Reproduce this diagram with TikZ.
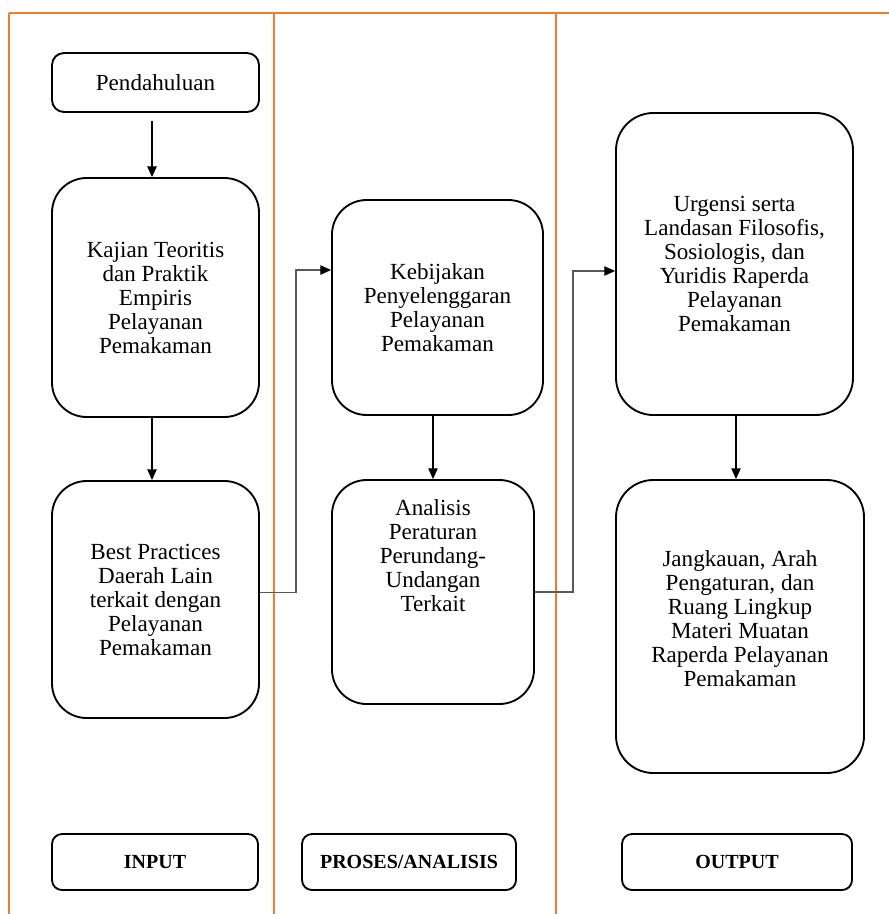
\documentclass[tikz,border=0pt]{standalone}
\usepackage{fontspec}
\setmainfont{Liberation Serif}
\usetikzlibrary{arrows.meta,calc}
\definecolor{colline}{HTML}{ED7D31}
\tikzset{
  x=0.75pt,y=-0.75pt,
  box/.style={draw=black,line width=1.4pt,fill=white,align=center,inner sep=0pt,
    font=\fontsize{17.3}{18}\selectfont},
  lbl/.style={draw=black,line width=1.4pt,rounded corners=7.5pt,align=center,inner sep=0pt,
    font=\fontsize{15}{15}\selectfont\bfseries},
  txt/.style={align=center,inner sep=0pt,font=\fontsize{17.3}{18}\selectfont},
  arr/.style={draw=black,line width=0.8pt,-{Triangle[length=8pt,width=7pt]}},
  elbow/.style={draw=black!65,line width=0.8pt,-{Triangle[length=8pt,width=7pt,color=black]}},
  sep/.style={draw=colline,line width=0.8pt}
}
\begin{document}
\begin{tikzpicture}
\useasboundingbox (0,0) rectangle (889,914);
% orange frame lines
\draw[sep,line width=1pt] (9,13) -- (889,13);
\draw[sep] (9,13) -- (9,914);
\draw[sep] (274,13) -- (274,914);
\draw[sep] (556,13) -- (556,914);

% input column
\node[box,rounded corners=9pt,minimum width=155.25pt,minimum height=44.25pt] (pend) at (155.5,82.5) {Pendahuluan};
\node[box,rounded corners=26pt,minimum width=155.25pt,minimum height=179.25pt] (kaj) at (155.5,297.5)
  {Kajian Teoritis\\dan Praktik\\Empiris\\Pelayanan\\Pemakaman};
\node[box,rounded corners=26pt,minimum width=155.25pt,minimum height=177.75pt] (best) at (155.5,599.5)
  {Best Practices\\Daerah Lain\\terkait dengan\\Pelayanan\\Pemakaman};

% process column
\node[box,rounded corners=26pt,minimum width=158.25pt,minimum height=161.25pt] (keb) at (437.5,307.5)
  {Kebijakan\\Penyelenggaran\\Pelayanan\\Pemakaman};
\node[box,rounded corners=26pt,minimum width=151.5pt,minimum height=168pt] (ana) at (433,592) {};
\node[txt] (anatxt) at (433,556) {Analisis\\Peraturan\\Perundang-\\Undangan\\Terkait};

% output column
\node[box,rounded corners=28pt,minimum width=177.75pt,minimum height=226.5pt] (urg) at (734.5,264)
  {Urgensi serta\\Landasan Filosofis,\\Sosiologis, dan\\Yuridis Raperda\\Pelayanan\\Pemakaman};
\node[box,rounded corners=28pt,minimum width=186pt,minimum height=219.75pt] (jan) at (740,626.5) {};
\node[txt] (jantxt) at (740,619)
  {Jangkauan, Arah\\Pengaturan, dan\\Ruang Lingkup\\Materi Muatan\\Raperda Pelayanan\\Pemakaman};

% bottom labels
\node[lbl,minimum width=154.5pt,minimum height=42pt] (lin) at (155,862) {INPUT};
\node[lbl,minimum width=160.5pt,minimum height=42pt] (lpro) at (409,862) {PROSES/ANALISIS};
\node[lbl,minimum width=172.5pt,minimum height=42pt] (lout) at (737,862) {OUTPUT};

% connectors
\draw[arr,shorten <=6pt] (pend.south -| 152,0) -- (kaj.north -| 152,0);
\draw[arr] (kaj.south -| 152,0) -- (best.north -| 152,0);
\draw[arr] (keb.south -| ana.north) -- (ana.north);
\draw[arr] (urg.south -| 736,0) -- (jan.north -| 736,0);
\draw[elbow] ($(best.east)+(0,-7)$) -| (296,270) -- (keb.west |- 0,270);
\draw[elbow] (ana.east) -| (573,271) -- (urg.west |- 0,271);
\end{tikzpicture}
\end{document}
